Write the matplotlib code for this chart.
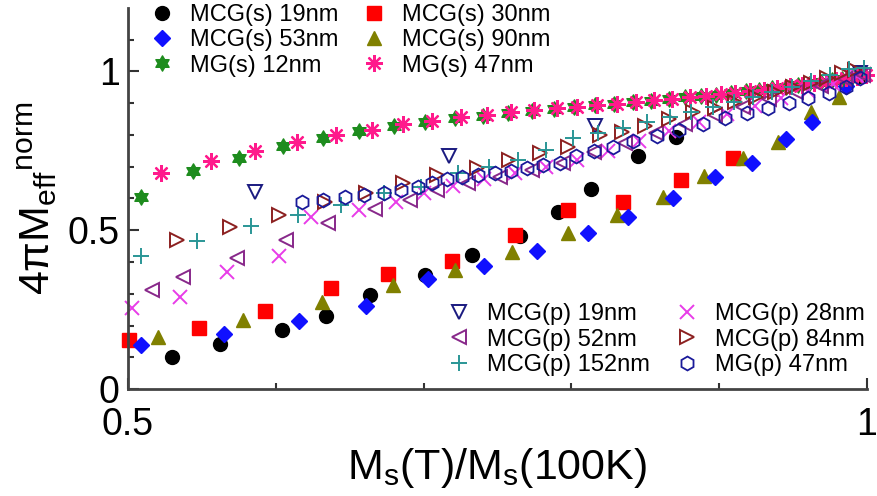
import matplotlib
matplotlib.use("Agg")
import matplotlib.pyplot as plt
from matplotlib.path import Path

plt.rcParams['font.family'] = ['Liberation Sans', 'DejaVu Sans']
plt.rcParams['mathtext.fontset'] = 'custom'
plt.rcParams['mathtext.rm'] = 'Liberation Sans'
plt.rcParams['mathtext.it'] = 'Liberation Sans:italic'

# --- data: Ms(T)/Ms(100K) vs normalised 4piMeff ---
mcg_s19_x = [0.530, 0.562, 0.604, 0.634, 0.664, 0.701, 0.733, 0.765, 0.791, 0.813, 0.845, 0.871, 0.995]
mcg_s19_y = [0.100, 0.142, 0.186, 0.230, 0.296, 0.360, 0.423, 0.483, 0.558, 0.631, 0.735, 0.795, 0.985]

mcg_s30_x = [0.501, 0.548, 0.593, 0.637, 0.676, 0.719, 0.762, 0.798, 0.835, 0.874, 0.909]
mcg_s30_y = [0.155, 0.192, 0.246, 0.318, 0.363, 0.404, 0.486, 0.565, 0.590, 0.659, 0.729]

mcg_s53_x = [0.509, 0.565, 0.616, 0.661, 0.703, 0.741, 0.777, 0.811, 0.838, 0.869, 0.897, 0.922, 0.945, 0.963, 0.986]
mcg_s53_y = [0.139, 0.173, 0.214, 0.262, 0.347, 0.388, 0.435, 0.492, 0.543, 0.603, 0.669, 0.713, 0.786, 0.842, 0.953]

mcg_s90_x = [0.520, 0.578, 0.631, 0.679, 0.721, 0.760, 0.798, 0.831, 0.862, 0.890, 0.916, 0.940, 0.962, 0.981]
mcg_s90_y = [0.164, 0.218, 0.274, 0.328, 0.375, 0.432, 0.491, 0.549, 0.606, 0.672, 0.729, 0.779, 0.871, 0.921]

mg_s12_x = [0.509, 0.544, 0.575, 0.605, 0.632, 0.656, 0.680, 0.701, 0.721, 0.740, 0.757, 0.773,
            0.788, 0.802, 0.816, 0.829, 0.842, 0.854, 0.866, 0.877, 0.888, 0.898, 0.908, 0.918,
            0.927, 0.936, 0.945, 0.953, 0.961, 0.969, 0.976, 0.983, 0.990, 0.996]
mg_s12_y = [0.606, 0.685, 0.729, 0.764, 0.791, 0.811, 0.827, 0.842, 0.852, 0.861, 0.869, 0.876,
            0.883, 0.888, 0.893, 0.898, 0.903, 0.908, 0.913, 0.918, 0.922, 0.927, 0.932, 0.937,
            0.942, 0.947, 0.952, 0.957, 0.962, 0.967, 0.972, 0.977, 0.983, 0.988]

mg_s47_x = [0.522, 0.556, 0.586, 0.614, 0.641, 0.665, 0.686, 0.706, 0.725, 0.743, 0.759, 0.775,
            0.790, 0.804, 0.817, 0.831, 0.844, 0.856, 0.868, 0.880, 0.891, 0.901, 0.911, 0.921,
            0.930, 0.939, 0.948, 0.956, 0.964, 0.972, 0.979, 0.986, 0.993, 0.999]
mg_s47_y = [0.681, 0.719, 0.751, 0.779, 0.801, 0.817, 0.833, 0.845, 0.855, 0.864, 0.871, 0.878,
            0.884, 0.889, 0.894, 0.899, 0.904, 0.909, 0.914, 0.919, 0.923, 0.928, 0.933, 0.938,
            0.943, 0.948, 0.953, 0.958, 0.963, 0.968, 0.973, 0.978, 0.984, 0.989]

mcg_p19_x = [0.586, 0.717, 0.816, 0.995]
mcg_p19_y = [0.621, 0.733, 0.828, 0.995]

mcg_p28_x = [0.503, 0.535, 0.567, 0.602, 0.624, 0.656, 0.681, 0.700, 0.720, 0.741, 0.762, 0.783,
             0.804, 0.825, 0.846, 0.866, 0.886, 0.905, 0.924, 0.942, 0.960, 0.977, 0.993]
mcg_p28_y = [0.255, 0.290, 0.369, 0.420, 0.543, 0.565, 0.590, 0.618, 0.640, 0.660, 0.680, 0.700,
             0.720, 0.750, 0.782, 0.812, 0.840, 0.866, 0.892, 0.916, 0.940, 0.962, 0.985]

mcg_p52_x = [0.516, 0.537, 0.574, 0.607, 0.635, 0.667, 0.691, 0.709, 0.730, 0.752, 0.773, 0.794,
             0.815, 0.836, 0.857, 0.877, 0.897, 0.916, 0.934, 0.952, 0.969, 0.985, 0.997]
mcg_p52_y = [0.312, 0.354, 0.413, 0.470, 0.524, 0.566, 0.596, 0.628, 0.648, 0.668, 0.690, 0.712,
             0.745, 0.775, 0.805, 0.835, 0.862, 0.888, 0.912, 0.935, 0.955, 0.975, 0.990]

mcg_p84_x = [0.533, 0.569, 0.602, 0.633, 0.661, 0.686, 0.709, 0.736, 0.758, 0.779, 0.798, 0.819,
             0.834, 0.850, 0.866, 0.882, 0.897, 0.911, 0.925, 0.938, 0.950, 0.962, 0.973, 0.983, 0.992]
mcg_p84_y = [0.470, 0.511, 0.549, 0.590, 0.618, 0.650, 0.675, 0.697, 0.722, 0.744, 0.763, 0.801,
             0.808, 0.827, 0.849, 0.871, 0.885, 0.905, 0.920, 0.935, 0.950, 0.965, 0.980, 0.995, 1.005]

mcg_p152_x = [0.509, 0.547, 0.583, 0.615, 0.644, 0.673, 0.698, 0.723, 0.744, 0.764, 0.783, 0.801, 0.818,
              0.835, 0.851, 0.867, 0.881, 0.896, 0.910, 0.923, 0.936, 0.949, 0.962, 0.975, 0.988, 0.998]
mcg_p152_y = [0.418, 0.467, 0.512, 0.548, 0.580, 0.618, 0.637, 0.681, 0.700, 0.722, 0.754, 0.792, 0.805,
              0.823, 0.840, 0.858, 0.871, 0.888, 0.905, 0.920, 0.935, 0.950, 0.970, 0.990, 1.008, 1.010]

mg_p47_x = [0.618, 0.632, 0.647, 0.660, 0.673, 0.685, 0.696, 0.706, 0.716, 0.726, 0.737, 0.748, 0.759,
            0.770, 0.781, 0.792, 0.803, 0.815, 0.828, 0.842, 0.858, 0.873, 0.889, 0.904, 0.919, 0.933,
            0.947, 0.960, 0.974, 0.986, 0.995]
mg_p47_y = [0.590, 0.596, 0.605, 0.612, 0.618, 0.627, 0.636, 0.648, 0.660, 0.668, 0.675, 0.680, 0.688,
            0.697, 0.705, 0.713, 0.735, 0.748, 0.763, 0.780, 0.797, 0.815, 0.835, 0.852, 0.868, 0.884,
            0.900, 0.916, 0.932, 0.950, 0.980]

hexagram = Path.unit_regular_star(6, 0.577)

fig = plt.figure(figsize=(8.78, 4.96), dpi=100)
ax = fig.add_axes([0.1458, 0.2157, 0.8417, 0.7683])

kw = dict(linestyle='none', clip_on=False)
h_s19, = ax.plot(mcg_s19_x, mcg_s19_y, marker='o', ms=10, color='black', mec='black', label='MCG(s) 19nm', **kw)
h_s30, = ax.plot(mcg_s30_x, mcg_s30_y, marker='s', ms=9.5, color='#ff0000', mec='#ff0000', label='MCG(s) 30nm', **kw)
h_s90, = ax.plot(mcg_s90_x, mcg_s90_y, marker='^', ms=10.5, color='#808000', mec='#808000', label='MCG(s) 90nm', **kw)
h_s53, = ax.plot(mcg_s53_x, mcg_s53_y, marker='D', ms=8.5, color='#1010ff', mec='#1010ff', label='MCG(s) 53nm', **kw)
h_g12, = ax.plot(mg_s12_x, mg_s12_y, marker=hexagram, ms=11, color='#1e8c1e', mec='#1e8c1e', label='MG(s) 12nm', **kw)
h_g47, = ax.plot(mg_s47_x, mg_s47_y, marker=(8, 2, 0), ms=12, mew=1.6, color='#ff1a8c', label='MG(s) 47nm', **kw)

h_p19, = ax.plot(mcg_p19_x, mcg_p19_y, marker='v', ms=10, mfc='none', mec='#1a1a80', mew=1.4, label='MCG(p) 19nm', **kw)
h_p28, = ax.plot(mcg_p28_x, mcg_p28_y, marker='x', ms=10, mec='#e83ce8', mew=1.4, label='MCG(p) 28nm', **kw)
h_p52, = ax.plot(mcg_p52_x, mcg_p52_y, marker='<', ms=10, mfc='none', mec='#88288a', mew=1.4, label='MCG(p) 52nm', **kw)
h_p84, = ax.plot(mcg_p84_x, mcg_p84_y, marker='>', ms=10, mfc='none', mec='#8c2020', mew=1.4, label='MCG(p) 84nm', **kw)
h_p152, = ax.plot(mcg_p152_x, mcg_p152_y, marker='+', ms=12, mec='#2a9696', mew=1.4, label='MCG(p) 152nm', **kw)
h_h47, = ax.plot(mg_p47_x, mg_p47_y, marker='h', ms=10, mfc='none', mec='#1a1a9a', mew=1.3, label='MG(p) 47nm', **kw)

ax.set_xlim(0.5, 1.0)
ax.set_ylim(0, 1.2)
ax.set_xticks([0.5, 1.0])
ax.set_xticklabels(['0.5', '1'])
ax.set_xticks([0.6, 0.7, 0.8, 0.9], minor=True)
ax.set_yticks([0, 0.5, 1.0])
ax.set_yticklabels(['0', '0.5', '1'])
ax.set_yticks([0.1, 0.2, 0.3, 0.4, 0.6, 0.7, 0.8, 0.9, 1.1], minor=True)
ax.tick_params(which='both', direction='in', labelsize=27, color='#333333', width=1.5)
ax.tick_params(which='major', length=8, pad=6)
ax.tick_params(which='minor', length=4)
ax.tick_params(axis='x', pad=13)

for side in ['top', 'right']:
    ax.spines[side].set_visible(False)
for side in ['left', 'bottom']:
    ax.spines[side].set_linewidth(2)
    ax.spines[side].set_color('#444444')

ax.set_xlabel('M$_{\\rm s}$(T)/M$_{\\rm s}$(100K)', fontsize=31, labelpad=2)
ax.set_ylabel('$\\mathrm{4πM_{eff}{}^{norm}}$', fontsize=31, labelpad=6)

leg1 = ax.legend(handles=[h_s19, h_s53, h_g12, h_s30, h_s90, h_g47], ncol=2, frameon=False,
                 loc='upper left', bbox_to_anchor=(0.03, 1.01), fontsize=17,
                 handlelength=1.0, handletextpad=0.7, columnspacing=1.0,
                 labelspacing=0.14, borderpad=0, borderaxespad=0)
ax.add_artist(leg1)
ax.legend(handles=[h_p19, h_p52, h_p152, h_p28, h_p84, h_h47], ncol=2, frameon=False,
          loc='lower right', bbox_to_anchor=(0.997, 0.034), fontsize=17,
          handlelength=1.0, handletextpad=0.7, columnspacing=1.05,
          labelspacing=0.14, borderpad=0, borderaxespad=0)

fig.savefig('out.png', dpi=100)
